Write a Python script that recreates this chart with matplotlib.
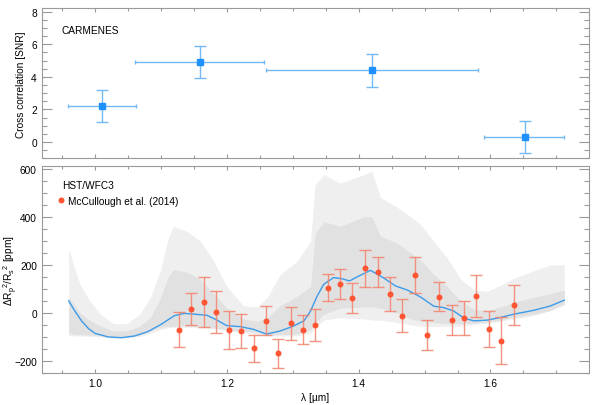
import matplotlib
matplotlib.use('Agg')
import matplotlib.pyplot as plt
from matplotlib.ticker import MultipleLocator
from matplotlib.lines import Line2D

plt.rcParams['font.family'] = ['Liberation Sans', 'DejaVu Sans']
plt.rcParams['mathtext.fontset'] = 'custom'
plt.rcParams['mathtext.rm'] = 'Liberation Sans'
plt.rcParams['mathtext.it'] = 'Liberation Sans'
plt.rcParams['mathtext.default'] = 'regular'

# CARMENES cross correlation (top panel)
carm_wl = [1.0106, 1.1585, 1.420, 1.652]
carm_wl_lo = [0.959, 1.061, 1.260, 1.590]
carm_wl_hi = [1.062, 1.257, 1.581, 1.711]
carm_snr = [2.2, 4.9, 4.4, 0.3]
carm_err = [1.0, 1.0, 1.0, 1.0]

# HST/WFC3 points, McCullough et al. (2014)
hst_wl = [1.1277, 1.146, 1.165, 1.184, 1.2026, 1.2214, 1.2406, 1.2594, 1.278, 1.2968,
          1.3156, 1.3343, 1.3536, 1.3719, 1.3906, 1.410, 1.4286, 1.4473, 1.466, 1.4848,
          1.5035, 1.5223, 1.541, 1.5597, 1.5786, 1.5977, 1.6166, 1.6353]
hst_dep = [-70, 17, 46, 3, -70, -76, -148, -32, -168, -44,
           -70, -50, 104, 119, 61, 185, 169, 77, -12, 158,
           -91, 68, -29, -21, 70, -68, -116, 32]
hst_err = [73, 67, 104, 87, 80, 71, 56, 61, 61, 69,
           60, 67, 56, 62, 62, 78, 63, 71, 68, 76,
           63, 61, 62, 72, 87, 74, 98, 83]

# best-fit model
model_wl = [0.960, 0.970, 0.980, 0.990, 1.000, 1.020, 1.040, 1.060, 1.080, 1.100,
            1.120, 1.135, 1.150, 1.170, 1.185, 1.200, 1.220, 1.240, 1.260, 1.280,
            1.300, 1.317, 1.327, 1.337, 1.347, 1.362, 1.375, 1.386, 1.400, 1.418,
            1.437, 1.456, 1.474, 1.494, 1.514, 1.529, 1.544, 1.560, 1.575, 1.595,
            1.615, 1.636, 1.666, 1.691, 1.712]
model_dep = [50, 5, -35, -65, -85, -100, -103, -96, -78, -48,
             -12, -2, -5, -10, -30, -53, -57, -68, -88, -76,
             -56, -33, 8, 70, 119, 147, 142, 133, 153, 177,
             147, 112, 95, 66, 28, 22, 8, -22, -33, -30,
             -19, -5, 11, 29, 53]

# spread of the model samples (outer envelope and dense core)
band_wl = [0.960, 0.962, 0.967, 0.977, 0.992, 1.008, 1.028, 1.048, 1.068, 1.084,
           1.099, 1.111, 1.119, 1.139, 1.160, 1.180, 1.200, 1.225, 1.246, 1.261,
           1.281, 1.307, 1.327, 1.334, 1.347, 1.372, 1.408, 1.420, 1.433, 1.458,
           1.479, 1.494, 1.514, 1.534, 1.555, 1.575, 1.595, 1.615, 1.636, 1.666,
           1.691, 1.712]
band_hi = [260, 250, 200, 120, 50, -5, -45, -45, -5, 64,
           174, 312, 360, 340, 298, 216, 110, 30, 25, 64,
           160, 216, 298, 533, 575, 540, 575, 590, 480, 440,
           400, 368, 298, 230, 140, 95, 90, 115, 145, 175,
           200, 200]
band_lo = [-95, -95, -95, -96, -97, -100, -105, -105, -97, -85,
           -70, -62, -60, -60, -62, -66, -72, -82, -90, -96,
           -96, -95, -85, -60, -30, -20, -25, -30, -30, -40,
           -50, -55, -57, -57, -55, -48, -42, -35, -25, -10,
           10, 40]
core_hi = [60, 60, 40, 0, -30, -55, -75, -75, -55, -20,
           60, 150, 180, 170, 140, 80, 20, -25, -35, -20,
           30, 70, 110, 330, 380, 360, 400, 400, 320, 290,
           250, 220, 160, 110, 50, 15, 10, 25, 45, 65,
           80, 95]
core_lo = [-85, -85, -88, -90, -92, -95, -100, -100, -92, -75,
           -60, -55, -55, -55, -58, -62, -70, -78, -80, -92,
           -90, -88, -70, -40, -5, 20, 25, 25, 20, 0,
           -25, -35, -40, -45, -45, -42, -38, -30, -18, -5,
           10, 35]

blue = '#1e90ff'
blue_err = '#74b9f5'
red = '#ff5533'
red_err = '#f3826c'
axcol = '#9a9a9a'

fig = plt.figure(figsize=(5.98, 4.06), dpi=100)
ax1 = fig.add_axes([0.0697, 0.6076, 0.9147, 0.3694])
ax2 = fig.add_axes([0.0697, 0.0788, 0.9147, 0.5092])

# top panel
xerr = [[c - l for c, l in zip(carm_wl, carm_wl_lo)], [h - c for c, h in zip(carm_wl, carm_wl_hi)]]
ax1.errorbar(carm_wl, carm_snr, xerr=xerr, fmt='none', ecolor=blue_err, elinewidth=1.0,
             capsize=1.2, capthick=1.0)
ax1.errorbar(carm_wl, carm_snr, yerr=carm_err, fmt='none', ecolor=blue_err, elinewidth=1.0,
             capsize=4, capthick=1.0)
ax1.plot(carm_wl, carm_snr, 's', color=blue, ms=4, zorder=5)
ax1.text(0.0366, 0.855, 'CARMENES', transform=ax1.transAxes, fontsize=7.3, va='center')
ax1.set_ylim(-1, 8.2)
ax1.set_ylabel('Cross correlation [SNR]', fontsize=7.3)
ax1.yaxis.set_label_coords(-0.029, 0.5)
ax1.yaxis.set_major_locator(MultipleLocator(2))
ax1.yaxis.set_minor_locator(MultipleLocator(0.5))
ax1.tick_params(labelbottom=False)

# bottom panel
ax2.fill_between(band_wl, band_lo, band_hi, color='#efefef', lw=0, zorder=1)
ax2.fill_between(band_wl, core_lo, core_hi, color='#e1e1e1', lw=0, zorder=1.5)
ax2.plot(model_wl, model_dep, color='#3d9be9', lw=1.0, zorder=3)
ax2.errorbar(hst_wl, hst_dep, yerr=hst_err, fmt='none', ecolor=red_err, elinewidth=1.0,
             capsize=4.3, capthick=1.0, alpha=0.85, zorder=4)
ax2.plot(hst_wl, hst_dep, 'o', color=red, ms=4.3, mec='none', zorder=5)
ax2.set_ylim(-250, 610)
ax2.set_ylabel('ΔR$_p$$^2$/R$_s$$^2$ [ppm]', fontsize=7.3)
ax2.yaxis.set_label_coords(-0.04, 0.5)
ax2.set_xlabel('λ [µm]', fontsize=7.3, labelpad=3)
ax2.yaxis.set_major_locator(MultipleLocator(200))
ax2.yaxis.set_minor_locator(MultipleLocator(50))

ax2.text(0.0373, 0.9095, 'HST/WFC3', transform=ax2.transAxes, fontsize=7.3, va='center')
handle = Line2D([], [], marker='o', ls='none', color=red, ms=4.3, mec='none')
ax2.legend([handle], ['McCullough et al. (2014)'], loc='center left',
           bbox_to_anchor=(0.0298, 0.832), frameon=False, fontsize=7.3,
           handlelength=0.6, handletextpad=0.43, borderaxespad=0, borderpad=0)

for ax in (ax1, ax2):
    ax.set_xlim(0.919, 1.749)
    ax.xaxis.set_major_locator(MultipleLocator(0.2))
    ax.xaxis.set_minor_locator(MultipleLocator(0.05))
    ax.tick_params(which='both', direction='in', top=True, right=True, colors=axcol,
                   labelcolor='black', labelsize=7.3, width=0.8)
    ax.tick_params(axis='y', which='major', length=7)
    ax.tick_params(axis='y', which='minor', length=3.5)
    ax.tick_params(axis='x', which='major', length=3)
    ax.tick_params(axis='x', which='minor', length=2)
    for s in ax.spines.values():
        s.set_color(axcol)
        s.set_linewidth(0.8)

fig.savefig('out.png', dpi=100)
